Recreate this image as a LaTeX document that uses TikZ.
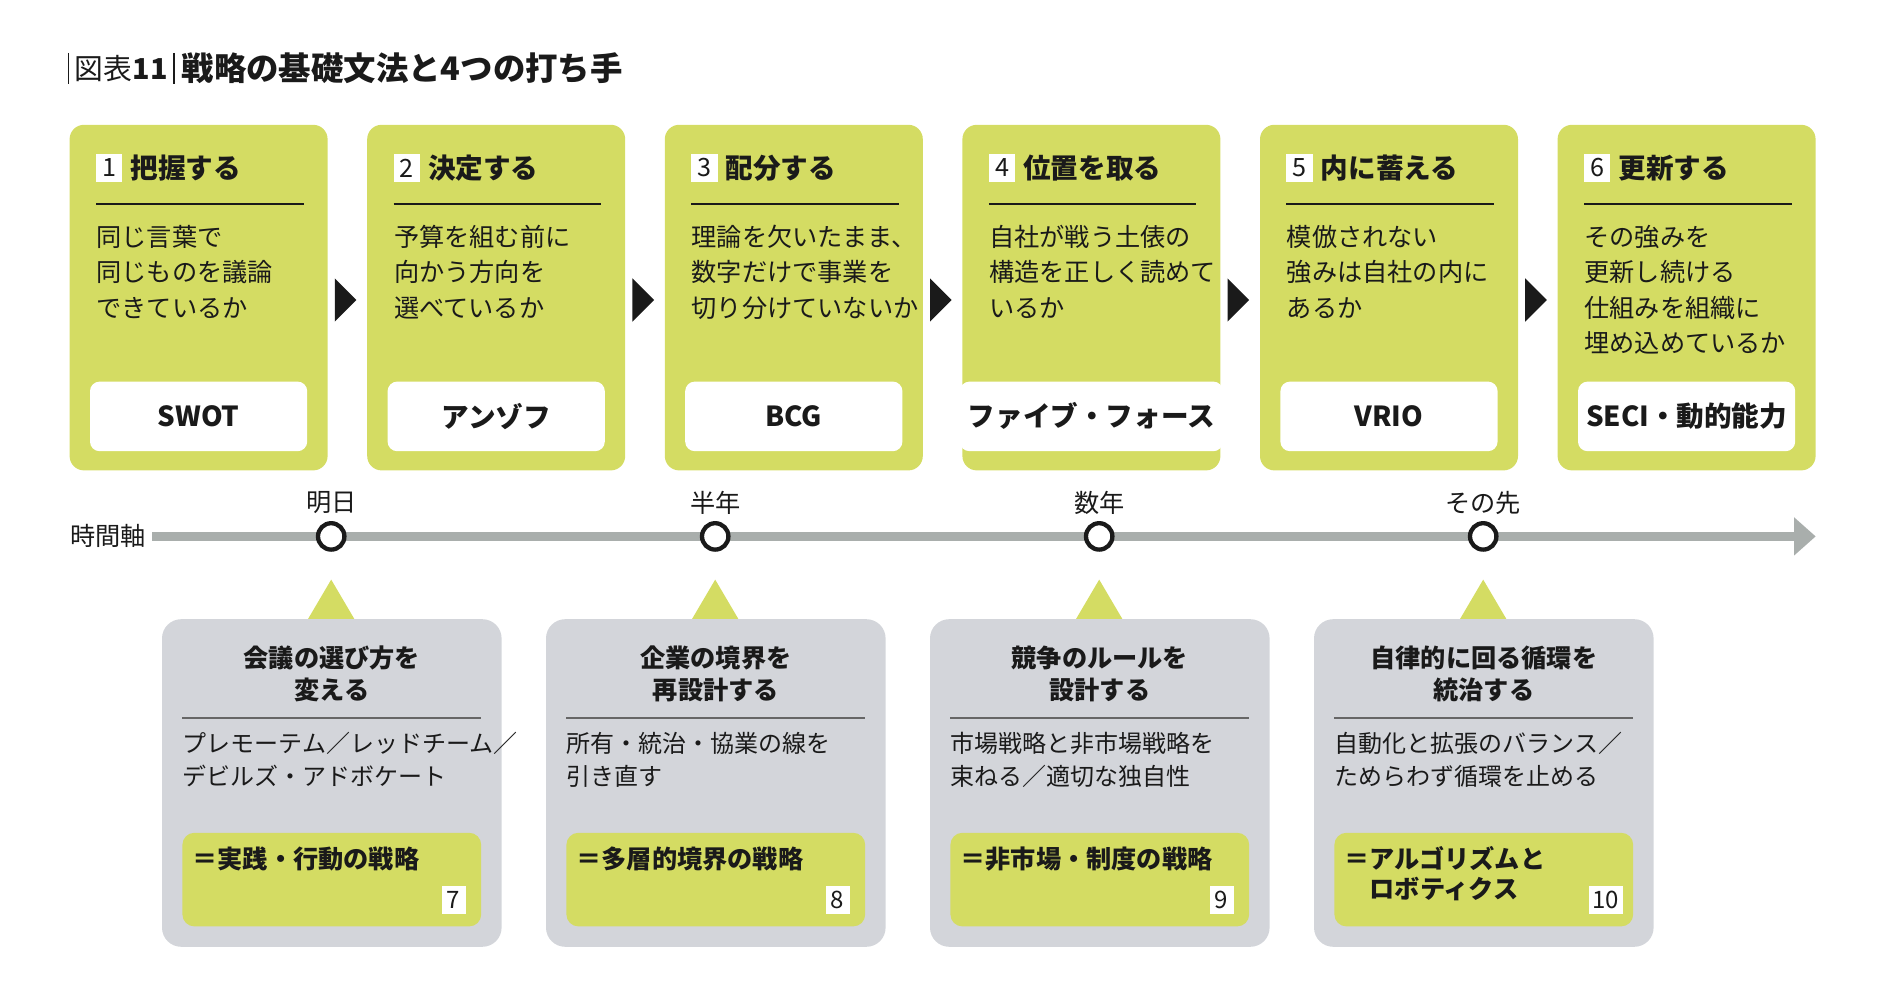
\documentclass[tikz,border=0pt]{standalone}
\usepackage{fontspec}
\setmainfont{Noto Sans CJK JP}
\usetikzlibrary{positioning}
\definecolor{lime}{HTML}{D4DC63}
\definecolor{paleg}{HTML}{D3D5DA}
\definecolor{axisg}{HTML}{A9AEAC}
\definecolor{ink}{HTML}{1A1A1A}
\tikzset{
  stage/.style={fill=lime,rounded corners=6pt},
  badge/.style={fill=white,inner sep=1.5pt,minimum width=11pt,minimum height=12pt,font=\fontsize{10.5}{12}\selectfont,text=ink},
  head/.style={anchor=west,inner sep=0pt,font=\bfseries\fontsize{11.5}{13}\selectfont,text=ink},
  body/.style={anchor=north west,inner sep=0pt,align=left,font=\fontsize{10.5}{14.8}\selectfont,text=ink},
  tool/.style={fill=white,rounded corners=4pt,minimum width=90.5pt,minimum height=29pt,font=\bfseries\fontsize{11.5}{13}\selectfont,text=ink},
  dot/.style={circle,draw=ink,line width=1.8pt,fill=white,minimum size=11pt,inner sep=0pt},
  lower/.style={fill=paleg,rounded corners=8pt},
  ltitle/.style={align=center,inner sep=0pt,font=\bfseries\fontsize{10.5}{13.5}\selectfont,text=ink},
  lbody/.style={anchor=north west,inner sep=0pt,align=left,font=\fontsize{10}{13.5}\selectfont,text=ink},
  lkey/.style={anchor=north west,inner sep=0pt,align=left,font=\bfseries\fontsize{10.5}{12.5}\selectfont,text=ink}
}
\begin{document}
\begin{tikzpicture}[x=0.5pt,y=-0.5pt]
  \useasboundingbox (0,0) rectangle (1565,834);
  % title
  \draw[ink,line width=0.5pt] (57,44) -- (57,70);
  \draw[ink,line width=0.5pt] (145,44) -- (145,70);
  \node[anchor=west,inner sep=0pt,font=\fontsize{12}{14}\selectfont,text=ink] (fig) at (62,57) {図表\textbf{11}};
  \node[anchor=west,inner sep=0pt,font=\bfseries\fontsize{13.5}{15}\selectfont,text=ink] (ttl) at (151,57) {戦略の基礎文法と4つの打ち手};
  % upper stages
  \foreach \i/\hd/\txt/\tl in {
      1/把握する/{同じ言葉で\\同じものを議論\\できているか}/SWOT,
      2/決定する/{予算を組む前に\\向かう方向を\\選べているか}/アンゾフ,
      3/配分する/{理論を欠いたまま、\\数字だけで事業を\\切り分けていないか}/BCG,
      4/位置を取る/{自社が戦う土俵の\\構造を正しく読めて\\いるか}/ファイブ・フォース,
      5/内に蓄える/{模倣されない\\強みは自社の内に\\あるか}/VRIO,
      6/更新する/{その強みを\\更新し続ける\\仕組みを組織に\\埋め込めているか}/SECI・動的能力} {
    \pgfmathsetmacro{\xx}{58+(\i-1)*248}
    \fill[stage] (\xx,104) rectangle ++(215,288);
    \node[badge] (n\i) at (\xx+33,140) {\i};
    \node[head,right=3pt of n\i] (h\i) {\hd};
    \draw[ink,line width=0.6pt] (\xx+22,170) -- (\xx+195,170);
    \node[body] (b\i) at (\xx+22,187) {\txt};
    \node[tool] (t\i) at (\xx+107.5,347) {\tl};
  }
  \foreach \i in {1,...,5} {
    \pgfmathsetmacro{\ax}{58+\i*248-25}
    \fill[ink] (\ax-2,232) -- (\ax+16,250) -- (\ax-2,268) -- cycle;
  }
  % time axis
  \node[anchor=east,inner sep=0pt,font=\fontsize{10.5}{12}\selectfont,text=ink] (axl) at (122,447) {時間軸};
  \coordinate (ax0) at (127,447);
  \coordinate (ax1) at (1497,447);
  \draw[axisg,line width=4pt] (ax0) -- (ax1);
  \fill[axisg] (1495,431) -- (1513,447) -- (1495,463) -- cycle;
  \foreach \i/\lb in {1/明日,2/半年,3/数年,4/その先} {
    \pgfmathsetmacro{\cx}{276+(\i-1)*320}
    \node[dot] (d\i) at (\cx,447) {};
    \node[inner sep=0pt,font=\fontsize{10.5}{12}\selectfont,text=ink] (dl\i) at (\cx,419) {\lb};
  }
  % lower boxes
  \foreach \i/\ta/\tb/\txt/\ky/\nn in {
      1/会議の選び方を/変える/{プレモーテム／レッドチーム／\\デビルズ・アドボケート}/{＝実践・行動の戦略}/7,
      2/企業の境界を/再設計する/{所有・統治・協業の線を\\引き直す}/{＝多層的境界の戦略}/8,
      3/競争のルールを/設計する/{市場戦略と非市場戦略を\\束ねる／適切な独自性}/{＝非市場・制度の戦略}/9,
      4/自律的に回る循環を/統治する/{自動化と拡張のバランス／\\ためらわず循環を止める}/{＝アルゴリズムと\\\hspace*{1em}ロボティクス}/10} {
    \pgfmathsetmacro{\lx}{135+(\i-1)*320}
    \fill[lime] (\lx+141,483) -- (\lx+161,517) -- (\lx+121,517) -- cycle;
    \fill[lower] (\lx,516) rectangle ++(283,273);
    \node[ltitle] (lt\i) at (\lx+141.5,561.5) {\ta\\\tb};
    \draw[black!60,line width=0.8pt] (\lx+17,598) -- (\lx+266,598);
    \node[lbody] (lb\i) at (\lx+17,610) {\txt};
    \fill[lime,rounded corners=5pt] (\lx+17,694) rectangle ++(249,78);
    \node[lkey] (lk\i) at (\lx+25,705) {\ky};
    \node[badge,font=\fontsize{10}{12}\selectfont,minimum width=10pt] (ln\i) at (\lx+243,750) {\nn};
  }
\end{tikzpicture}
\end{document}
